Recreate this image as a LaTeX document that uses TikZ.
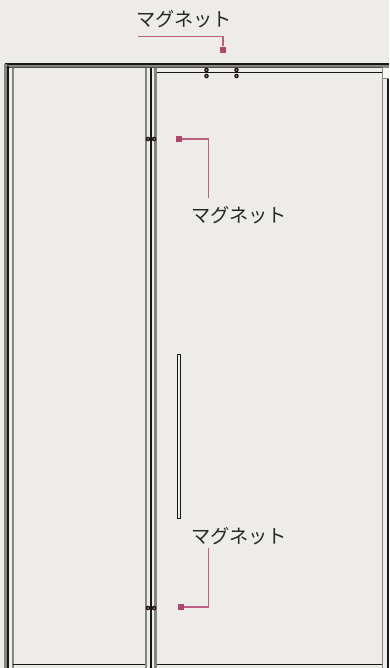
\documentclass[tikz,border=0pt]{standalone}
\usepackage{fontspec}
\newfontfamily\jpfont{Noto Sans CJK JP}[Scale=1]
\definecolor{bgc}{HTML}{EDECE8}
\definecolor{lead}{HTML}{BC5F82}
\definecolor{sq}{HTML}{B3466F}
\definecolor{band}{HTML}{85847F}
\definecolor{ink}{HTML}{161616}
\tikzset{
  lbl/.style={font=\jpfont\fontsize{19.2}{20}\selectfont,text=black!85,inner sep=0pt,anchor=center},
  sqm/.style={fill=sq,draw=none,minimum size=6.2pt,inner sep=0pt},
  leader/.style={draw=lead,line width=1.3pt},
  graybar/.style={fill=band,draw=none},
  inkbar/.style={fill=ink,draw=none},
  hline/.style={draw=ink,line width=0.9pt},
  dotm/.style={circle,fill=ink,draw=none,minimum size=4.6pt,inner sep=0pt,
    path picture={\fill[sq!80!white] (path picture bounding box.center) circle (1pt);}}
}
\begin{document}
\begin{tikzpicture}[x=1pt,y=-1pt]
\useasboundingbox (0,0) rectangle (389,668);
\fill[bgc] (0,0) rectangle (389,668);
\begin{scope}
\clip (0,0) rectangle (389,668);
% top rail
\fill[band] (5,63.5) rectangle (389,67.8);
\fill[ink] (4.5,63.2) rectangle (389,64.6);
\fill[black!70] (7,67.2) rectangle (382,68.2);
% left stile
\fill[graybar] (4,64) rectangle (7.3,668);
\fill[inkbar] (7.3,66) rectangle (9,668);
\fill[graybar] (12,68) rectangle (14,668);
% centre stile
\fill[graybar] (145,68) rectangle (147,668);
\fill[inkbar] (150,68) rectangle (152,668);
\fill[graybar] (153.7,68) rectangle (156.5,668);
% right edge
\fill[graybar] (381.7,68) rectangle (383,668);
\fill[white!60!bgc] (383,68) rectangle (389,78);
\fill[graybar] (383,78) rectangle (389,79);
\fill[inkbar] (386.8,79) rectangle (389,668);
% horizontal door edges
\draw[hline] (156.5,72.3) -- (382,72.3);
\draw[hline] (13,664.5) -- (145,664.5);
\draw[hline] (156.5,664.5) -- (382,664.5);
\end{scope}
% handle
\fill[graybar] (176.7,354) rectangle (178,519);
\draw[draw=ink,line width=0.9pt,fill=bgc] (177.8,354.5) rectangle (180.8,518.7);
% magnets
\node[dotm] (t1) at (206.5,70) {};
\node[dotm] (t2) at (206.5,76) {};
\node[dotm] (t3) at (236.5,70) {};
\node[dotm] (t4) at (236.5,76) {};
\node[dotm] (u1) at (148,139) {};
\node[dotm] (u2) at (154,139) {};
\node[dotm] (l1) at (148,608) {};
\node[dotm] (l2) at (154,608) {};
% labels
\node[lbl] (a) at (184,19) {マグネット};
\node[lbl] (b) at (239,215) {マグネット};
\node[lbl] (c) at (239,536) {マグネット};
% markers
\node[sqm] (sa) at (223,49.7) {};
\node[sqm] (sb) at (179,139) {};
\node[sqm] (sc) at (181,607) {};
\coordinate (ea) at (137.5,36.7);
\coordinate (eb) at (208.5,198.5);
\coordinate (ec) at (208.5,548);
\draw[leader] (ea) -| (sa);
\draw[leader] (sb) -| (eb);
\draw[leader] (sc) -| (ec);
\end{tikzpicture}
\end{document}
